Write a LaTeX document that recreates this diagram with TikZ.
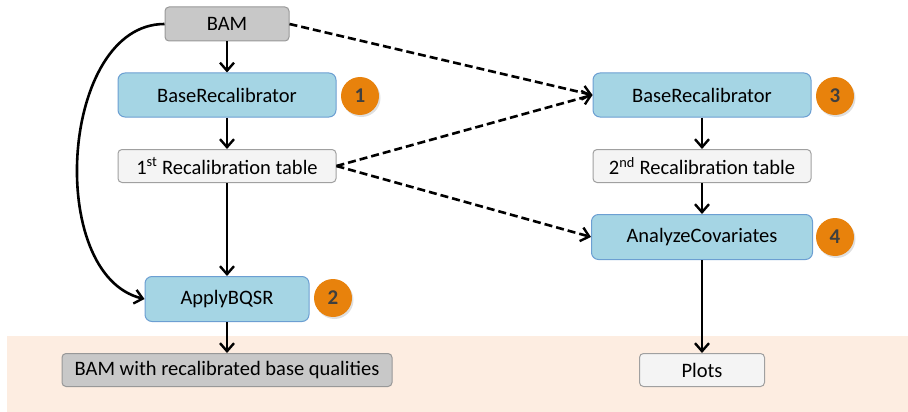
\documentclass[tikz,border=0pt]{standalone}
\usepackage{fontspec}
\setmainfont{Carlito}
\usetikzlibrary{arrows.meta,shadows}
\definecolor{bluefill}{HTML}{A5D5E4}
\definecolor{blueline}{HTML}{6C9FD2}
\definecolor{grayfill}{HTML}{C8C8C8}
\definecolor{grayline}{HTML}{989898}
\definecolor{lightfill}{HTML}{F4F4F4}
\definecolor{lightline}{HTML}{A0A0A0}
\definecolor{bandfill}{HTML}{FDEDE1}
\definecolor{orangefill}{HTML}{E8820C}
\definecolor{numtext}{HTML}{3F3F3F}
\begin{document}
\begin{tikzpicture}[x=1pt,y=-1pt,
  box/.style={rounded corners=4pt, line width=1pt, inner sep=0pt, font=\fontsize{20.5}{22}\selectfont, text=black},
  tool/.style={box, draw=blueline, fill=bluefill, minimum width=218pt, minimum height=44pt, rounded corners=7pt},
  graybox/.style={box, draw=grayline, fill=grayfill, minimum height=34pt},
  tablebox/.style={box, draw=lightline, fill=lightfill, minimum height=33pt},
  num/.style={circle, fill=orangefill, minimum size=38pt, inner sep=0pt, text=numtext, font=\fontsize{21}{22}\selectfont\bfseries, drop shadow={shadow xshift=1.5pt, shadow yshift=-2pt, opacity=0.25}},
  arr/.style={line width=2.6pt, -{Straight Barb[length=8pt,width=14pt,line width=2.4pt]}},
  darr/.style={arr, dash pattern=on 8pt off 4pt}
]
\useasboundingbox (0,0) rectangle (908,412);
\fill[bandfill] (7,336) rectangle (908,412);

\node[graybox, minimum width=124pt] (bam) at (227,24) {BAM};
\node[tool] (br1) at (227,95) {BaseRecalibrator};
\node[num] (n1) at (360,96) {1};
\node[tablebox, minimum width=218pt] (t1) at (227,166) {1\textsuperscript{st} Recalibration table};
\node[tool, minimum width=164pt, minimum height=45pt] (apply) at (227,299) {ApplyBQSR};
\node[num] (n2) at (333,298) {2};
\node[graybox, minimum width=330pt, minimum height=33pt] (out) at (227,370) {BAM with recalibrated base qualities};

\node[tool] (br3) at (702,95) {BaseRecalibrator};
\node[num] (n3) at (835,96) {3};
\node[tablebox, minimum width=218pt] (t2) at (702,166) {2\textsuperscript{nd} Recalibration table};
\node[tool, minimum width=221pt, minimum height=45pt] (ac) at (702,237) {AnalyzeCovariates};
\node[num] (n4) at (835,237) {4};
\node[tablebox, minimum width=125pt] (plots) at (702,370) {Plots};

\draw[arr] (bam) -- (br1);
\draw[arr] (br1) -- (t1);
\draw[arr] (t1) -- (apply);
\draw[arr] (apply) -- (out);
\draw[arr] (br3) -- (t2);
\draw[arr] (t2) -- (ac);
\draw[arr] (ac) -- (plots);
\draw[arr] (bam.west) .. controls (60,24) and (45,275) .. (apply.west);
\draw[darr] (bam.east) -- (br3.west);
\draw[darr] (t1.east) -- (br3.west);
\draw[darr] (t1.east) -- (ac.west);
\end{tikzpicture}
\end{document}
